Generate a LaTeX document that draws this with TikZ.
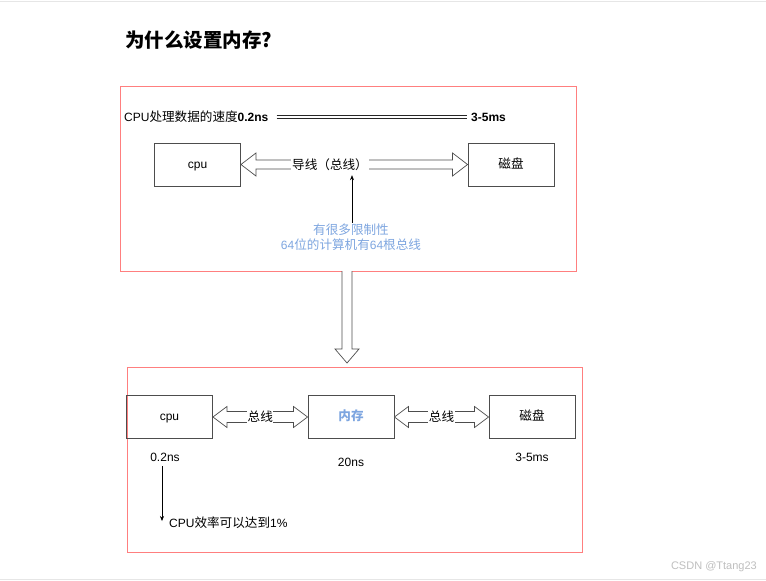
\documentclass[tikz,border=0pt]{standalone}
\usepackage{fontspec}
\setmainfont{Liberation Sans}
\newfontfamily\cjk{Noto Sans CJK SC}
\usetikzlibrary{calc,arrows.meta}
\definecolor{redb}{HTML}{FF7F7F}
\definecolor{bluet}{HTML}{7EA6E0}
\definecolor{boxc}{HTML}{4D4D4D}
\definecolor{faint}{HTML}{E6E6E6}
\tikzset{
  box/.style={draw=boxc, line width=0.9pt, minimum width=86pt, minimum height=43pt, inner sep=0pt, text height=9pt, text depth=2pt, font=\fontsize{12}{14}\selectfont},
  frame/.style={draw=redb, line width=1pt},
  fat/.style={draw=boxc, line width=0.7pt, fill=white},
  txt/.style={inner sep=0pt, font=\fontsize{12}{14}\selectfont},
  thin/.style={draw=black, line width=0.6pt, -{Stealth[length=5pt,width=4pt]}},
}
% horizontal fat double arrow between points #1 (left) and #2 (right)
% #3 half shaft, #4 half head, #5 head length
\newcommand{\fatdouble}[5]{%
  \draw[fat] (#1) -- ($(#1)+(#5,#4)$) -- ($(#1)+(#5,#3)$) -- ($(#2)+(-#5,#3)$)
    -- ($(#2)+(-#5,#4)$) -- (#2) -- ($(#2)+(-#5,-#4)$) -- ($(#2)+(-#5,-#3)$)
    -- ($(#1)+(#5,-#3)$) -- ($(#1)+(#5,-#4)$) -- cycle;}
\begin{document}
\begin{tikzpicture}[x=1pt,y=-1pt]
\useasboundingbox (0,0) rectangle (766,581);
\fill[white] (0,0) rectangle (766,581);
\draw[faint, line width=1.2pt] (0,1.5) -- (766,1.5);
\draw[faint, line width=1.2pt] (0,579.5) -- (766,579.5);

% title
\node[anchor=west, inner sep=0pt, font=\fontsize{19.5}{22}\selectfont\bfseries\cjk] (title) at (125,40) {为什么设置内存?};

% top frame
\draw[frame] (120,86) rectangle (576,271);
\node[txt, anchor=west] (speed) at (124,117) {CPU{\fontsize{12.6}{14}\selectfont\cjk 处理数据的速度}\textbf{0.2ns}};
\node[txt, anchor=west] (slow) at (471,117) {\textbf{3-5ms}};
\coordinate (da) at ($(speed.east)+(8,0)$);
\coordinate (db) at ($(slow.west)+(-4,0)$);
\draw[black!85, line width=0.7pt] ($(da)+(0,-1.3)$) -- ($(db)+(0,-1.3)$);
\draw[black!85, line width=0.7pt] ($(da)+(0,1.3)$) -- ($(db)+(0,1.3)$);

\node[box] (cpu1) at (197.5,164.5) {cpu};
\node[box, font=\fontsize{12.6}{14}\selectfont\cjk] (disk1) at (511,164.5) {磁盘};
\fatdouble{cpu1.east}{disk1.west}{4.5}{11.5}{15}
\node[txt, fill=white, inner xsep=1pt, inner ysep=2pt, font=\fontsize{12.6}{14}\selectfont\cjk] (bus1) at (330,165) {导线（总线）};

\node[txt, text=bluet, align=center, font=\fontsize{12}{15}\selectfont] (limit) at (351,237.5) {{\fontsize{12.6}{15}\selectfont\cjk 有很多限制性}\\64{\fontsize{12.6}{15}\selectfont\cjk 位的计算机有}64{\fontsize{12.6}{15}\selectfont\cjk 根总线}};
\draw[thin] ($(limit.north)+(1,-1)$) coordinate (ls) -- ($(bus1.south)+(22,2)$);

% big down arrow
\coordinate (dtop) at (347,271);
\coordinate (dtip) at (347,363);
\draw[fat] ($(dtop)+(-5,0)$) -- ($(dtip)+(-5,-14)$) -- ($(dtip)+(-12,-14)$) -- (dtip)
  -- ($(dtip)+(12,-14)$) -- ($(dtip)+(5,-14)$) -- ($(dtop)+(5,0)$);

% bottom frame
\draw[frame] (127,367) rectangle (582,552);
\node[box] (cpu2) at (169.5,417) {cpu};
\node[box, text=bluet, font=\fontsize{12.6}{14}\selectfont\bfseries\cjk] (mem) at (351,417) {内存};
\node[box, font=\fontsize{12.6}{14}\selectfont\cjk] (disk2) at (532,417) {磁盘};
\fatdouble{cpu2.east}{mem.west}{5.5}{10.5}{14}
\fatdouble{mem.east}{disk2.west}{5.5}{10.5}{14}
\node[txt, fill=white, inner xsep=0.5pt, inner ysep=1pt, font=\fontsize{12.6}{14}\selectfont\cjk] at ($(cpu2.east)!0.5!(mem.west)$) {总线};
\node[txt, fill=white, inner xsep=0.5pt, inner ysep=1pt, font=\fontsize{12.6}{14}\selectfont\cjk] at ($(mem.east)!0.5!(disk2.west)$) {总线};

\node[txt] (t1) at (165,457) {0.2ns};
\node[txt] (t2) at (351,462) {20ns};
\node[txt] (t3) at (532,457) {3-5ms};
\node[txt, anchor=west] (eff) at (169,523) {CPU{\fontsize{12.6}{14}\selectfont\cjk 效率可以达到}1\%};
\draw[thin] (162,466) coordinate (es) -- (162,521) coordinate (ee);

\node[anchor=east, inner sep=0pt, text=black!25, font=\fontsize{11}{13}\selectfont] (wm) at (757,567) {CSDN @Ttang23};
\end{tikzpicture}
\end{document}
